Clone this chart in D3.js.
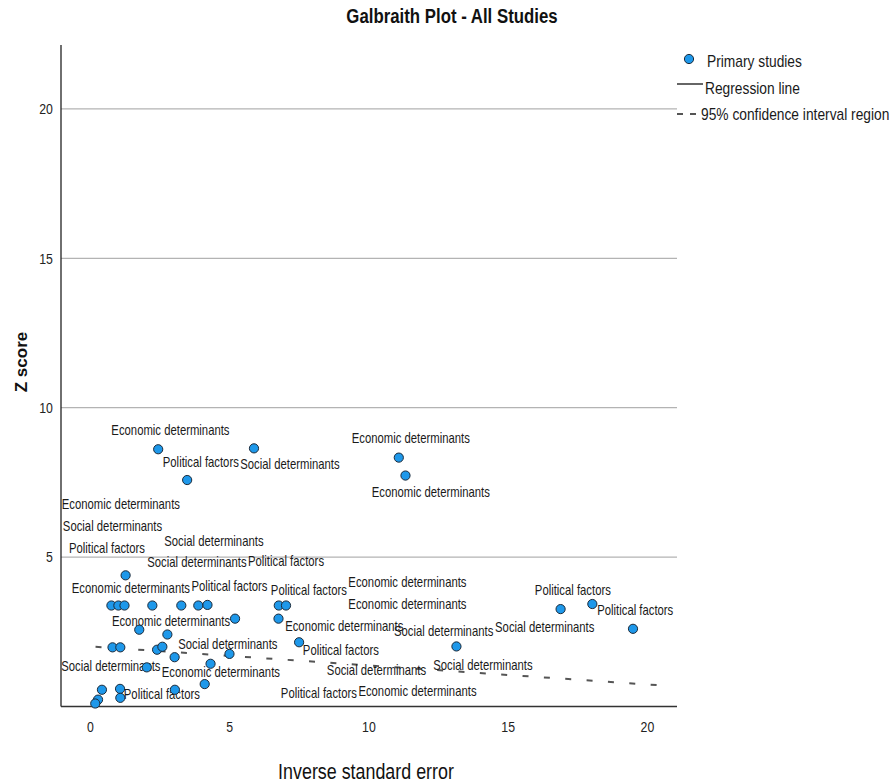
<!DOCTYPE html>
<html>
<head>
<meta charset="utf-8">
<script src="https://cdn.jsdelivr.net/npm/d3@7"></script>
<style>
  html, body { margin: 0; padding: 0; background: #fff; }
  svg { display: block; }
  text { font-family: 'Liberation Sans', Arial, sans-serif; }
</style>
</head>
<body>
<svg id="chart" width="895" height="783"></svg>
<script>
// Galbraith plot: inverse standard error (x) against z score (y) for each primary study
const studyPrecision = [2.45, 5.89, 3.49, 11.09, 11.33, 1.28, 0.77, 1.02, 1.24, 2.24,
  3.28, 3.89, 4.22, 5.21, 6.78, 7.04, 6.77, 1.77, 2.78, 0.81,
  1.09, 2.41, 2.60, 3.04, 5.01, 7.51, 4.33, 2.04, 4.12, 0.43,
  1.08, 3.05, 0.29, 0.19, 1.09, 13.16, 16.90, 18.04, 19.50];
const studyZ = [8.61, 8.64, 7.58, 8.33, 7.73, 4.39, 3.38, 3.38, 3.38, 3.38,
  3.38, 3.38, 3.40, 2.94, 3.38, 3.38, 2.94, 2.57, 2.41, 1.98,
  1.98, 1.90, 2.00, 1.65, 1.76, 2.15, 1.43, 1.31, 0.75, 0.56,
  0.59, 0.56, 0.23, 0.10, 0.29, 2.01, 3.26, 3.43, 2.60];

// Moderator labels and where they sit, in axis units
const labelText = [
  "Economic determinants", "Political factors", "Social determinants", "Economic determinants",
  "Economic determinants", "Economic determinants", "Social determinants", "Political factors",
  "Social determinants", "Social determinants", "Political factors", "Economic determinants",
  "Political factors", "Political factors", "Economic determinants", "Economic determinants",
  "Economic determinants", "Economic determinants", "Social determinants", "Social determinants",
  "Social determinants", "Political factors", "Social determinants", "Economic determinants",
  "Social determinants", "Social determinants", "Political factors", "Political factors",
  "Economic determinants", "Political factors", "Political factors"];
const labelX = [2.89, 3.98, 7.18, 11.52, 12.24, 1.11, 0.81, 0.61, 4.45, 3.84, 7.04, 1.47,
  5.01, 7.86, 11.40, 11.40, 2.91, 9.13, 12.70, 16.33, 4.95, 9.01, 0.75, 4.70,
  10.29, 14.11, 2.58, 8.22, 11.76, 17.34, 19.58];
const labelZ = [9.26, 8.18, 8.10, 8.97, 7.17, 6.76, 6.03, 5.29, 5.53, 4.84, 4.85, 3.97,
  4.02, 3.91, 4.17, 3.43, 2.85, 2.68, 2.53, 2.67, 2.09, 1.90, 1.36, 1.15,
  1.22, 1.39, 0.41, 0.44, 0.52, 3.91, 3.24];

// 95% confidence bound (end points)
const ciX = [0.20, 20.45];
const ciZ = [2.00, 0.71];

const xTicks = [0, 5, 10, 15, 20];
const yTicks = [5, 10, 15, 20];
const legendItems = ["Primary studies", "Regression line", "95% confidence interval region"];

// Condensed lettering: regular sans squeezed horizontally
const SQUEEZE = 0.82;

const svg = d3.select("#chart");
const plot = { left: 61, right: 677, top: 45, bottom: 706.5 };

const x = d3.scaleLinear().domain([-1.04, 21.08]).range([plot.left, plot.right]);
const y = d3.scaleLinear().domain([0, 22.14]).range([plot.bottom, plot.top]);

// Gridlines
svg.append("g").selectAll("line").data(yTicks).join("line")
  .attr("x1", plot.left).attr("x2", plot.right)
  .attr("y1", d => y(d)).attr("y2", d => y(d))
  .attr("stroke", "#b3b3b3").attr("stroke-width", 1.3);

// Axes
const yAxis = d3.axisLeft(y).tickValues(yTicks).tickSize(0).tickPadding(10);
const gy = svg.append("g").attr("transform", `translate(${plot.left},0)`).call(yAxis);
gy.select(".domain").attr("d", `M0,${plot.top}V${plot.bottom}`).attr("stroke", "#222").attr("stroke-width", 1.3);
gy.selectAll(".tick text").attr("font-family", null).attr("font-size", 15).attr("fill", "#222")
  .attr("transform", `scale(${SQUEEZE},1)`);

const xAxis = d3.axisBottom(x).tickValues(xTicks).tickSize(0).tickPadding(15);
const gx = svg.append("g").attr("transform", `translate(0,${plot.bottom})`).call(xAxis);
gx.select(".domain").attr("d", `M${plot.left},0H${plot.right}`).attr("stroke", "#333").attr("stroke-width", 1.6);
gx.selectAll(".tick text").attr("font-family", null).attr("font-size", 15).attr("fill", "#222")
  .attr("transform", `scale(${SQUEEZE},1)`);

// Confidence bound
svg.append("line")
  .attr("x1", x(ciX[0])).attr("y1", y(ciZ[0]))
  .attr("x2", x(ciX[1])).attr("y2", y(ciZ[1]))
  .attr("stroke", "#555").attr("stroke-width", 2).attr("stroke-dasharray", "6,15.4");

// Labels
svg.append("g").selectAll("text").data(labelText).join("text")
  .attr("transform", (d, i) => `translate(${x(labelX[i])},${y(labelZ[i])}) scale(${SQUEEZE},1)`)
  .attr("dy", "0.35em").attr("text-anchor", "middle")
  .attr("font-size", 13.8).attr("fill", "#1a1a1a")
  .text(d => d);

// Study points
svg.append("g").selectAll("circle").data(studyPrecision).join("circle")
  .attr("cx", d => x(d)).attr("cy", (d, i) => y(studyZ[i]))
  .attr("r", 4.6)
  .attr("fill", "#1e98ea").attr("stroke", "#1b2a3a").attr("stroke-width", 1);

// Title
svg.append("text")
  .attr("transform", `translate(452,23) scale(${SQUEEZE},1)`)
  .attr("text-anchor", "middle")
  .attr("font-size", 20.5).attr("font-weight", "bold").attr("fill", "#111")
  .text("Galbraith Plot - All Studies");

// Axis titles
svg.append("text")
  .attr("transform", `translate(366,779) scale(${SQUEEZE},1)`)
  .attr("text-anchor", "middle")
  .attr("font-size", 21.8).attr("fill", "#111")
  .text("Inverse standard error");

svg.append("text")
  .attr("transform", "translate(21,362) rotate(-90)")
  .attr("text-anchor", "middle").attr("dy", "0.35em")
  .attr("font-size", 17).attr("font-weight", "bold").attr("fill", "#111")
  .text("Z score");

// Legend
const lg = svg.append("g");
lg.append("circle").attr("cx", 689).attr("cy", 59).attr("r", 4.6)
  .attr("fill", "#1e98ea").attr("stroke", "#1b2a3a").attr("stroke-width", 1);
lg.append("line").attr("x1", 677).attr("x2", 703).attr("y1", 84).attr("y2", 84)
  .attr("stroke", "#333").attr("stroke-width", 1.5);
lg.append("line").attr("x1", 677).attr("x2", 703).attr("y1", 114).attr("y2", 114)
  .attr("stroke", "#555").attr("stroke-width", 2).attr("stroke-dasharray", "6,7");
const legendX = [707, 705, 701];
const legendY = [61, 88, 114];
lg.selectAll("text").data(legendItems).join("text")
  .attr("transform", (d, i) => `translate(${legendX[i]},${legendY[i]}) scale(${SQUEEZE},1)`)
  .attr("dy", "0.35em")
  .attr("font-size", 16.8).attr("fill", "#1a1a1a")
  .text(d => d);
</script>
</body>
</html>
